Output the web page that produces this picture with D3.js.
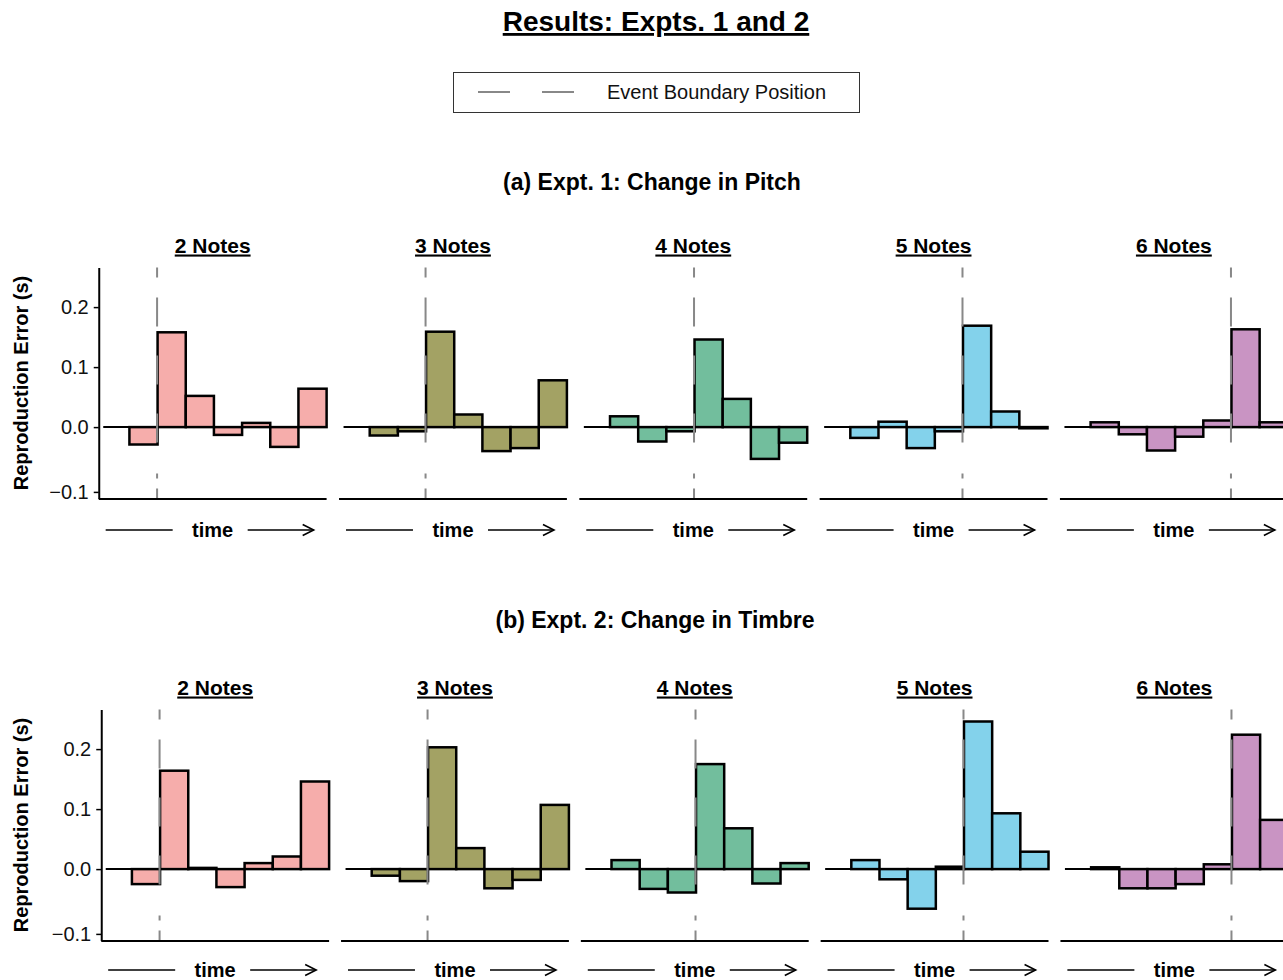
<!DOCTYPE html>
<html>
<head>
<meta charset="utf-8">
<script src="https://cdn.jsdelivr.net/npm/d3@7"></script>
<style>
  body { margin: 0; background: #fff; }
  svg { display: block; }
  text { font-family: "Liberation Sans", Arial, Helvetica, sans-serif; }
</style>
</head>
<body>
<div id="chart"></div>
<script>
// panel titles and where the event boundary falls (slot index)
var panelTitles = ["2 Notes", "3 Notes", "4 Notes", "5 Notes", "6 Notes"];
var boundarySlot = [2, 3, 4, 5, 6];
// slot 0 is left empty, bars sit in slots 1..7
var slots = [0, 1, 2, 3, 4, 5, 6, 7];
var barSlots = [1, 2, 3, 4, 5, 6, 7];

// Expt. 1: change in pitch
var pitchErr = [
  [-0.029, 0.158, 0.052, -0.013, 0.007, -0.033, 0.064],
  [-0.014, -0.007, 0.159, 0.021, -0.040, -0.035, 0.078],
  [0.018, -0.024, -0.007, 0.146, 0.047, -0.053, -0.026],
  [-0.018, 0.009, -0.035, -0.007, 0.169, 0.026, -0.002],
  [0.008, -0.012, -0.039, -0.016, 0.011, 0.163, 0.008]
];
// Expt. 2: change in timbre
var timbreErr = [
  [-0.025, 0.164, 0.002, -0.030, 0.010, 0.021, 0.146],
  [-0.011, -0.020, 0.203, 0.035, -0.032, -0.018, 0.107],
  [0.015, -0.033, -0.039, 0.175, 0.068, -0.024, 0.010],
  [0.015, -0.017, -0.066, 0.004, 0.246, 0.093, 0.029],
  [0.003, -0.032, -0.032, -0.025, 0.008, 0.224, 0.082]
];
var yTicks = [-0.108, 0, 0.1, 0.2];
var fills = ["#F6ADAB", "#A3A264", "#72BE9D", "#83D2EB", "#C994C3"];

var svgWidth = 1283;
var svgHeight = 980;
var panelHeight = 231;
var slotW = 28.17;

var rows = [
  { title: "(a) Expt. 1: Change in Pitch", data: pitchErr, top: 267.5, x0: 143.5, step: 240.3, titleX: 652, titleY: 190, timeY: 530 },
  { title: "(b) Expt. 2: Change in Timbre", data: timbreErr, top: 709.5, x0: 146, step: 239.8, titleX: 655, titleY: 628, timeY: 970 }
];

var svg = d3.select("#chart")
  .append("svg")
  .attr("width", svgWidth)
  .attr("height", svgHeight);

// main title
svg.append("text")
  .attr("x", 656)
  .attr("y", 31)
  .attr("text-anchor", "middle")
  .attr("font-size", 28)
  .attr("font-weight", "bold")
  .style("text-decoration", "underline")
  .text("Results: Expts. 1 and 2");

// legend
var legend = svg.append("g");
legend.append("rect")
  .attr("x", 453.5).attr("y", 72.5)
  .attr("width", 406).attr("height", 40)
  .attr("fill", "none")
  .attr("stroke", "#333")
  .attr("stroke-width", 1);
legend.append("line")
  .attr("x1", 478).attr("x2", 574)
  .attr("y1", 92).attr("y2", 92)
  .attr("stroke", "#888")
  .attr("stroke-width", 2.2)
  .attr("stroke-dasharray", "32,32");
legend.append("text")
  .attr("x", 607)
  .attr("y", 99)
  .attr("font-size", 20)
  .attr("fill", "#111")
  .text("Event Boundary Position");

var y = d3.scaleLinear()
  .domain([-0.119, 0.266])
  .range([panelHeight, 0]);

rows.forEach(function(row) {
  svg.append("text")
    .attr("x", row.titleX)
    .attr("y", row.titleY)
    .attr("text-anchor", "middle")
    .attr("font-size", 23)
    .attr("font-weight", "bold")
    .text(row.title);

  // y axis title
  svg.append("text")
    .attr("transform", "translate(28," + (row.top + panelHeight / 2) + ") rotate(-90)")
    .attr("text-anchor", "middle")
    .attr("font-size", 20)
    .attr("font-weight", "bold")
    .text("Reproduction Error (s)");

  panelTitles.forEach(function(name, k) {
    var c1 = row.x0 + k * row.step;
    var x = d3.scaleBand()
      .domain(slots)
      .range([c1 - 1.5 * slotW, c1 + 6.5 * slotW]);
    var left = x.range()[0] - 2.5;
    var right = x.range()[1];
    var mid = (left + right) / 2;

    var g = svg.append("g")
      .attr("transform", "translate(0," + row.top + ")");

    // panel title
    g.append("text")
      .attr("x", mid)
      .attr("y", -15)
      .attr("text-anchor", "middle")
      .attr("font-size", 21)
      .attr("font-weight", "bold")
      .style("text-decoration", "underline")
      .text(name);

    // zero line
    g.append("line")
      .attr("x1", x(0) + 2).attr("x2", right)
      .attr("y1", y(0)).attr("y2", y(0))
      .attr("stroke", "#000")
      .attr("stroke-width", 2);

    // bars
    var vals = row.data[k];
    g.selectAll("rect.bar")
      .data(barSlots)
      .enter()
      .append("rect")
      .attr("class", "bar")
      .attr("x", function(s) { return x(s); })
      .attr("width", x.bandwidth())
      .attr("y", function(s, i) { return y(Math.max(vals[i], 0)); })
      .attr("height", function(s, i) { return Math.abs(y(vals[i]) - y(0)); })
      .attr("fill", fills[k])
      .attr("stroke", "#000")
      .attr("stroke-width", 2.5);

    // event boundary
    g.append("line")
      .attr("x1", x(boundarySlot[k]) - 0.5).attr("x2", x(boundarySlot[k]) - 0.5)
      .attr("y1", 0).attr("y2", panelHeight)
      .attr("stroke", "#888")
      .attr("stroke-width", 2)
      .attr("stroke-dasharray", "10,20,29,29,29,29,29,31,5,10,10");

    // x axis line
    g.append("line")
      .attr("x1", left).attr("x2", right)
      .attr("y1", panelHeight + 0.5).attr("y2", panelHeight + 0.5)
      .attr("stroke", "#000")
      .attr("stroke-width", 2);

    // y axis on first panel only
    if (k === 0) {
      var axis = g.append("g")
        .attr("transform", "translate(" + left + ",0)")
        .call(d3.axisLeft(y)
          .tickValues(yTicks)
          .tickFormat(d3.format(".1f"))
          .tickSize(5)
          .tickSizeOuter(0)
          .tickPadding(5));
      axis.select(".domain").attr("stroke-width", 2);
      axis.selectAll(".tick line").attr("stroke-width", 1.5);
      axis.selectAll(".tick text")
        .attr("font-size", 20)
        .attr("font-family", "'Liberation Sans', Arial, Helvetica, sans-serif")
        .attr("fill", "#111");
    }

    // time arrow
    var ty = row.timeY - row.top;
    g.append("line")
      .attr("x1", mid - 107).attr("x2", mid - 40)
      .attr("y1", ty).attr("y2", ty)
      .attr("stroke", "#000").attr("stroke-width", 1.6);
    g.append("text")
      .attr("x", mid)
      .attr("y", ty + 7)
      .attr("text-anchor", "middle")
      .attr("font-size", 20)
      .attr("font-weight", "bold")
      .text("time");
    g.append("line")
      .attr("x1", mid + 35).attr("x2", mid + 101)
      .attr("y1", ty).attr("y2", ty)
      .attr("stroke", "#000").attr("stroke-width", 1.6);
    g.append("path")
      .attr("d", "M" + (mid + 90) + "," + (ty - 5.5) + "L" + (mid + 101) + "," + ty + "L" + (mid + 90) + "," + (ty + 5.5))
      .attr("fill", "none")
      .attr("stroke", "#000").attr("stroke-width", 1.6);
  });
});
</script>
</body>
</html>
